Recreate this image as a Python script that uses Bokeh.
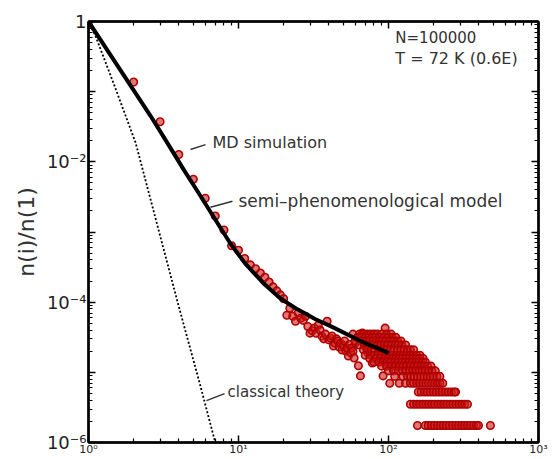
from bokeh.plotting import figure
from bokeh.models import Range1d, LogAxis, FixedTicker, CustomJSTickFormatter, Label
from bokeh.embed import file_html
from bokeh.resources import INLINE

# ---------------- data ----------------
# MD simulation, cluster size i and n(i)/n(1)
md_i = [1, 2, 3, 4, 5, 6, 7, 8, 9, 10, 11, 12, 13, 14, 15, 16, 17, 18, 19, 20,
        21, 22, 23, 24, 25, 26, 27, 28, 29, 30, 31, 32, 33, 34, 35, 36, 37, 38,
        39, 40, 41, 42, 43, 44, 45, 46, 47, 48, 49, 50, 51, 52, 53, 54, 55, 56,
        57, 58, 59, 60, 62, 63, 65, 67, 70, 73, 78, 82, 86, 88, 92, 95, 100]
md_y = [1, 0.137, 0.0373, 0.0127, 5.64e-3, 3.03e-3, 1.69e-3, 1.07e-3, 6.36e-4,
        5.5e-4, 4.2e-4, 3.4e-4, 3.0e-4, 2.6e-4, 2.27e-4, 1.94e-4, 1.65e-4,
        1.45e-4, 1.27e-4, 1.12e-4,
        6.5e-5, 8.2e-5, 6.3e-5, 5.35e-5, 7.0e-5, 5.9e-5, 5.5e-5, 6.3e-5, 4.5e-5,
        3.62e-5, 3.9e-5, 4.27e-5, 3.6e-5, 4.7e-5, 4.0e-5, 3.28e-5, 3.0e-5, 3.5e-5,
        5.35e-5, 2.9e-5, 3.08e-5, 3.3e-5, 2.37e-5, 2.6e-5, 3.0e-5, 2.79e-5, 2.3e-5,
        2.6e-5, 2.08e-5, 2.4e-5, 2.8e-5, 2.02e-5, 2.2e-5, 1.71e-5, 2.5e-5, 1.9e-5,
        2.22e-5, 2.0e-5, 1.6e-5, 2.61e-5, 3.08e-5, 1.24e-5, 8.9e-6, 3.62e-5,
        2.37e-5, 1.89e-5, 1.36e-5, 3.08e-5, 2.22e-5, 2.61e-5, 8.9e-6, 4.27e-5, 2.37e-5]

# Large-cluster tail: the values fall on discrete levels (n(i) = 1, 2, 3 ...)
tail_levels = [3.5e-5, 3.15e-5, 2.8e-5, 2.45e-5, 2.1e-5, 1.75e-5, 1.575e-5,
               1.4e-5, 1.225e-5, 1.05e-5, 8.75e-6, 7.0e-6, 5.25e-6, 3.5e-6, 1.75e-6]
tail_rows = [
    [58, 64, 68, 72, 76, 80, 84, 90, 97, 104],
    [62, 66, 70, 74, 78, 82, 87, 93, 99, 106, 112],
    [60, 66, 71, 75, 79, 83, 87, 91, 96, 102, 108, 115, 121],
    [64, 69, 74, 78, 85, 89, 94, 99, 105, 111, 116, 123, 130],
    [68, 72, 77, 81, 87, 93, 98, 103, 109, 115, 121, 127, 134, 140, 147],
    [70, 76, 80, 85, 90, 96, 101, 107, 113, 119, 125, 132, 139, 146, 154, 162],
    [75, 82, 88, 94, 100, 106, 112, 118, 124, 131, 138, 145, 153, 161, 170],
    [80, 86, 92, 98, 104, 110, 116, 123, 130, 137, 144, 152, 160, 168, 176],
    [90, 97, 104, 111, 118, 125, 132, 140, 148, 156, 165, 173, 182, 192],
    [100, 108, 116, 124, 131, 138, 145, 152, 160, 168, 176, 185, 195, 205],
    [110, 125, 134, 141, 148, 156, 164, 172, 181, 190, 199, 210, 220],
    [102, 118, 130, 140, 147, 154, 161, 169, 177, 185, 194, 203, 212, 220, 230],
    [158, 165, 173, 181, 190, 199, 208, 218, 228, 239, 250, 262, 274, 280],
    [140, 147, 154, 161, 169, 177, 185, 194, 203, 213, 223, 233, 244, 256, 268,
     281, 294, 308, 322, 336],
    [156, 176, 184, 193, 202, 212, 222, 232, 243, 255, 267, 280, 293, 307, 321,
     336, 352, 369, 386, 398, 478],
]

# semi-phenomenological model (thick line)
model_i = [1, 2.59, 3.41, 4.30, 5.33, 7.03, 8.85, 11.1, 14.7, 19.05, 24.7,
           32.6, 41.1, 65.1, 100]
model_y = [1, 0.0453, 0.0176, 7.8e-3, 3.81e-3, 1.48e-3, 6.79e-4, 3.54e-4,
           1.85e-4, 1.13e-4, 7.91e-5, 5.71e-5, 4.55e-5, 2.79e-5, 1.89e-5]

# classical theory (dotted line)
classical_i = [1, 1.11, 1.5, 2.06, 3.0, 3.98, 5.5, 7.0]
classical_y = [1, 0.634, 0.117, 0.0188, 8.9e-4, 9.0e-5, 7.1e-6, 1.0e-6]

# annotation texts
info_lines = ["N=100000", "T = 72 K (0.6E)"]

# ---------------- figure ----------------
p = figure(width=558, height=458, x_axis_type="log", y_axis_type="log",
           x_range=Range1d(1, 1000), y_range=Range1d(1e-6, 1),
           output_backend="svg", toolbar_location=None,
           min_border_left=88, min_border_right=20, min_border_top=21,
           min_border_bottom=13)
p.xgrid.visible = False
p.ygrid.visible = False
p.background_fill_color = "white"
p.border_fill_color = "white"
p.outline_line_color = "black"
p.outline_line_width = 2

x_major = [1, 10, 100, 1000]
x_minor = [m * 10 ** d for d in range(3) for m in range(2, 10)]
y_major = [10.0 ** -e for e in range(7)]
y_minor = [m * 10.0 ** -d for d in range(1, 7) for m in range(2, 10)]

SUP = "const sup={'-':'\u207b','0':'\u2070','1':'\u00b9','2':'\u00b2','3':'\u00b3','4':'\u2074','5':'\u2075','6':'\u2076','7':'\u2077','8':'\u2078','9':'\u2079'};"
x_fmt = CustomJSTickFormatter(code=SUP + """
const e = Math.round(Math.log10(tick));
return '10' + String(e).split('').map(c => sup[c]).join('');
""")
y_fmt = CustomJSTickFormatter(code=SUP + """
const e = Math.round(Math.log10(tick));
if (e === 0) return '1';
if (Math.abs(e) % 2 === 1) return '';
return '10' + String(e).split('').map(c => sup[c]).join('');
""")
blank_fmt = CustomJSTickFormatter(code="return '';")

def style_axis(ax):
    ax.axis_line_color = "black"
    ax.axis_line_width = 2.5
    ax.major_tick_in = 7
    ax.major_tick_out = 0
    ax.minor_tick_in = 4
    ax.minor_tick_out = 0
    ax.major_tick_line_color = "black"
    ax.minor_tick_line_color = "black"
    ax.major_tick_line_width = 1.5
    ax.minor_tick_line_width = 1.2
    ax.major_label_text_font = "DejaVu Sans"
    ax.major_label_text_color = "#222222"

xa = p.xaxis[0]
xa.ticker = FixedTicker(ticks=x_major, minor_ticks=x_minor)
xa.formatter = x_fmt
style_axis(xa)
xa.major_label_text_font_size = "11px"
xa.major_label_standoff = 0

ya = p.yaxis[0]
ya.ticker = FixedTicker(ticks=y_major, minor_ticks=y_minor)
ya.formatter = y_fmt
style_axis(ya)
ya.major_label_text_font_size = "18px"
ya.major_label_standoff = 2
ya.axis_label = "n(i)/n(1)"
ya.axis_label_text_font = "DejaVu Sans"
ya.axis_label_text_font_size = "22px"
ya.axis_label_text_font_style = "normal"
ya.axis_label_text_color = "#333333"
ya.axis_label_standoff = 5

top = LogAxis(ticker=FixedTicker(ticks=x_major, minor_ticks=x_minor), formatter=blank_fmt)
style_axis(top)
top.major_label_text_font_size = "0px"
top.major_label_standoff = 0
p.add_layout(top, "above")

right = LogAxis(ticker=FixedTicker(ticks=y_major, minor_ticks=y_minor), formatter=blank_fmt)
style_axis(right)
right.major_label_text_font_size = "0px"
right.major_label_standoff = 0
p.add_layout(right, "right")

# MD points
all_i = list(md_i)
all_y = list(md_y)
for lvl, row in zip(tail_levels, tail_rows):
    all_i.extend(row)
    all_y.extend([lvl] * len(row))

p.scatter(all_i, all_y, marker="circle", size=7.5, line_color="#b00000",
          line_width=1.6, fill_color="#cc1a1a", fill_alpha=0.6)

# theory curves
p.line(classical_i, classical_y, line_color="black", line_width=1.8, line_dash="2 2")
p.line(model_i, model_y, line_color="black", line_width=4, line_join="round")

# leader lines for annotations
lead_x0 = [4.79, 6.5, 6.12]
lead_y0 = [0.015, 2.26e-3, 3.95e-6]
lead_x1 = [6.03, 9.12, 8.07]
lead_y1 = [0.0176, 2.75e-3, 4.97e-6]
p.segment(lead_x0, lead_y0, lead_x1, lead_y1, line_color="#333333", line_width=1.5)

def add_label(x, y, text, size):
    p.add_layout(Label(x=x, y=y, text=text, text_baseline="middle",
                       text_font="DejaVu Sans", text_font_size=size,
                       text_color="#333333"))

add_label(6.71, 0.0188, "MD simulation", "16px")
add_label(10.0, 2.75e-3, "semi\u2013phenomenological model", "17px")
add_label(8.45, 5.3e-6, "classical theory", "15px")
add_label(111, 0.575, info_lines[0], "15px")
add_label(111, 0.30, info_lines[1], "16px")

open("out.html", "w").write(file_html(p, INLINE))
